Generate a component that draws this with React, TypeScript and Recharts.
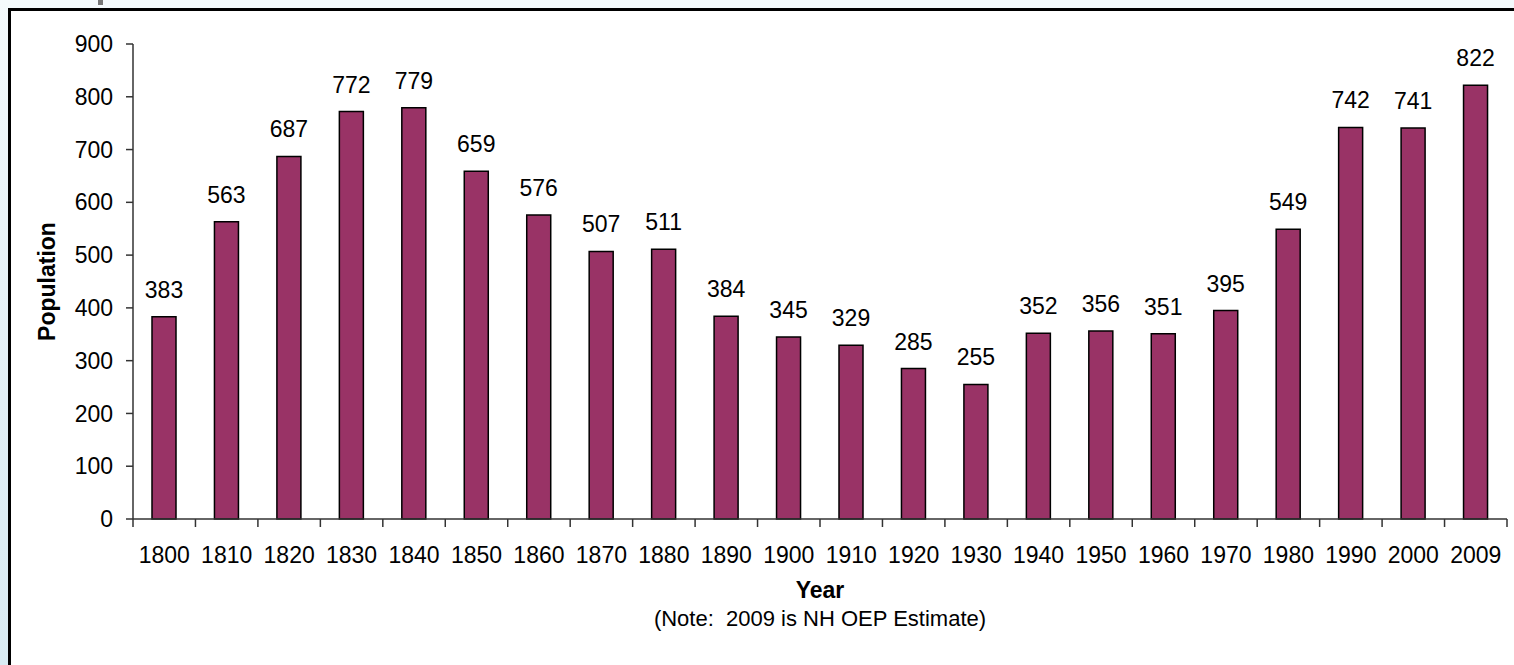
import React from "react";
import { BarChart, Bar, XAxis, YAxis, LabelList } from "recharts";

const years = [
  "1800", "1810", "1820", "1830", "1840", "1850", "1860", "1870", "1880", "1890", "1900",
  "1910", "1920", "1930", "1940", "1950", "1960", "1970", "1980", "1990", "2000", "2009",
];
const population = [
  383, 563, 687, 772, 779, 659, 576, 507, 511, 384, 345,
  329, 285, 255, 352, 356, 351, 395, 549, 742, 741, 822,
];
const yTicks = [0, 100, 200, 300, 400, 500, 600, 700, 800, 900];

const data = years.map((year, i) => ({ year, pop: population[i] }));

const W = 1514;
const H = 665;
const M = { top: 44, right: 7, bottom: 0, left: 0 };
const Y_W = 133;
const X_H = 146;
const FONT = "'Liberation Sans', Arial, sans-serif";
const plotW = W - M.left - M.right - Y_W;
const band = plotW / years.length;

function YearTick(props: any) {
  const { x, y, payload, index } = props;
  const last = index === years.length - 1;
  return (
    <g>
      <line x1={x - band / 2} x2={x - band / 2} y1={y} y2={y + 8} stroke="#333" strokeWidth={1.5} />
      {last && <line x1={x + band / 2} x2={x + band / 2} y1={y} y2={y + 8} stroke="#333" strokeWidth={1.5} />}
      <text x={x} y={y + 44} textAnchor="middle" fill="#000" fontSize={23} fontFamily={FONT}>
        {payload.value}
      </text>
    </g>
  );
}

function XTitle(props: any) {
  const { viewBox } = props;
  const cx = viewBox.x + viewBox.width / 2;
  return (
    <g fontFamily={FONT} fill="#000" textAnchor="middle">
      <text x={cx} y={viewBox.y + 79} fontSize={23} fontWeight="bold">Year</text>
      <text x={cx} y={viewBox.y + 107} fontSize={22}>{"(Note:\u00a0 2009 is NH OEP Estimate)"}</text>
    </g>
  );
}

function YTitle(props: any) {
  const { viewBox } = props;
  const cy = viewBox.y + viewBox.height / 2;
  const x = 55;
  return (
    <text
      x={x}
      y={cy}
      transform={`rotate(-90, ${x}, ${cy})`}
      textAnchor="middle"
      fontFamily={FONT}
      fontSize={23}
      fontWeight="bold"
      fill="#000"
    >
      Population
    </text>
  );
}

export default function App() {
  return (
    <div style={{ position: "absolute", left: 0, top: 0, width: W, height: H, overflow: "hidden", background: "#f4fafc" }}>
      <div
        style={{
          position: "absolute", left: 0, top: 0, width: 8, height: H,
          background: "linear-gradient(180deg, #f4fafc 0%, #e2eff5 60%, #d9ebf3 100%)",
        }}
      />
      <div style={{ position: "absolute", left: 98, top: 0, width: 5, height: 5, background: "#777" }} />
      <div
        style={{
          position: "absolute", left: 8, top: 8, right: 0, bottom: 0,
          background: "#fff", borderTop: "3px solid #000", borderLeft: "3px solid #000",
        }}
      />
      <div style={{ position: "absolute", left: 0, top: 0 }}>
        <BarChart width={W} height={H} data={data} margin={M} barCategoryGap={0}>
          <XAxis
            dataKey="year"
            height={X_H}
            interval={0}
            tickSize={0}
            tickMargin={0}
            axisLine={{ stroke: "#333", strokeWidth: 1.5 }}
            tickLine={false}
            tick={<YearTick />}
            label={<XTitle />}
          />
          <XAxis
            xAxisId="top"
            orientation="top"
            dataKey="year"
            height={0}
            tick={false}
            tickLine={false}
            axisLine={{ stroke: "#999", strokeWidth: 2 }}
          />
          <YAxis
            width={Y_W}
            domain={[0, 900]}
            ticks={yTicks}
            interval={0}
            tickSize={7}
            tickMargin={13}
            axisLine={{ stroke: "#333", strokeWidth: 1.5 }}
            tickLine={{ stroke: "#333", strokeWidth: 1.5 }}
            tick={{ fill: "#000", fontSize: 23, fontFamily: FONT }}
            label={<YTitle />}
          />
          <YAxis
            yAxisId="right"
            orientation="right"
            width={0}
            domain={[0, 900]}
            tick={false}
            tickLine={false}
            axisLine={{ stroke: "#999", strokeWidth: 2 }}
          />
          <Bar dataKey="pop" fill="#993366" stroke="#000" strokeWidth={1.5} barSize={24} isAnimationActive={false}>
            <LabelList dataKey="pop" position="top" offset={19} fill="#000" fontSize={23} fontFamily={FONT} />
          </Bar>
        </BarChart>
      </div>
    </div>
  );
}
